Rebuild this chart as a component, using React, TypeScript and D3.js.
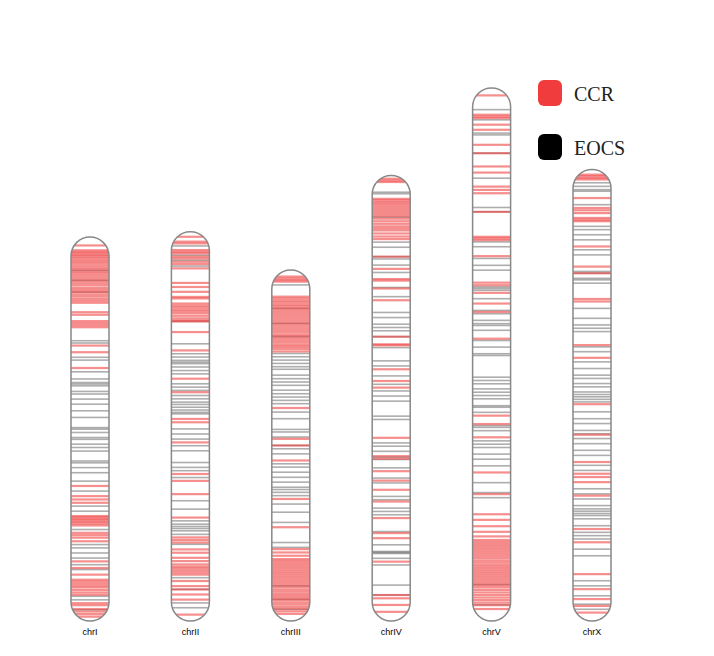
import React from "react";
import * as d3 from "d3";

const chromosomes = ["chrI", "chrII", "chrIII", "chrIV", "chrV", "chrX"];
const lengthsMb = [15.07, 15.28, 13.78, 17.49, 20.92, 17.72];

const ccrI = [0.33, 0.52, 0.58, 0.64, 0.7, 0.76, 0.82, 0.9, 0.97, 1.04, 1.12, 1.2, 1.27, 1.35, 1.42, 1.5, 1.58, 1.66, 1.74, 1.82, 1.9, 2.0, 2.08, 2.16, 2.25, 2.33, 2.42, 2.5, 2.58, 2.95, 3.05, 3.3, 3.38, 3.46, 3.54, 4.26, 4.52, 5.14, 9.77, 10.17, 10.3, 10.43, 10.95, 11.0, 11.06, 11.12, 11.18, 11.25, 11.32, 11.61, 11.7, 11.8, 11.94, 12.73, 12.99, 13.25, 13.45, 13.52, 13.6, 13.68, 13.75, 13.85, 13.95, 14.04, 14.37, 14.45, 14.6, 14.7, 14.8, 14.9];
const eocsI = [1.31, 1.7, 2.16, 4.07, 4.16, 4.72, 4.83, 5.29, 5.57, 5.71, 5.77, 5.84, 6.06, 6.16, 6.36, 6.56, 6.82, 7.08, 7.48, 7.54, 7.67, 7.87, 7.94, 8.13, 8.26, 8.4, 8.79, 8.86, 9.05, 9.25, 9.58, 9.97, 10.56, 10.76, 11.48, 12.07, 12.2, 12.4, 12.6, 12.86, 13.05, 14.1, 14.24, 14.63];

const ccrII = [0.2, 0.39, 0.46, 0.72, 0.79, 0.85, 0.98, 1.05, 1.18, 1.27, 1.44, 2.01, 2.17, 2.36, 2.56, 2.62, 2.82, 2.9, 2.97, 3.05, 3.12, 3.2, 3.3, 3.4, 3.48, 3.52, 3.94, 4.66, 5.77, 6.3, 7.35, 7.48, 8.27, 9.51, 9.78, 10.3, 11.22, 12.0, 12.1, 12.2, 12.47, 12.6, 12.8, 12.93, 13.06, 13.15, 13.22, 13.3, 13.38, 13.46, 13.71, 13.91, 14.04, 14.24, 14.44, 15.03];
const eocsII = [0.56, 0.92, 1.12, 1.35, 3.52, 4.4, 4.79, 4.92, 5.05, 5.12, 5.18, 5.31, 5.45, 5.58, 5.97, 6.1, 6.23, 6.43, 6.56, 6.69, 6.78, 6.89, 7.0, 7.09, 7.15, 7.74, 7.94, 8.14, 8.4, 8.6, 9.06, 9.25, 9.38, 9.65, 10.56, 10.89, 11.35, 11.48, 11.57, 11.65, 11.74, 11.88, 12.27, 13.58, 14.04, 14.57, 14.76];

const ccrIII = [0.26, 0.33, 0.4, 0.46, 1.05, 1.12, 1.2, 1.27, 1.35, 1.42, 1.5, 1.58, 1.66, 1.74, 1.82, 1.9, 1.98, 2.06, 2.14, 2.22, 2.3, 2.38, 2.46, 2.55, 2.62, 2.7, 2.78, 2.86, 2.95, 3.02, 3.1, 3.2, 5.42, 6.63, 6.89, 7.48, 8.99, 10.1, 10.96, 11.09, 11.22, 11.35, 11.42, 11.5, 11.58, 11.66, 11.74, 11.82, 11.9, 11.98, 12.06, 12.14, 12.22, 12.3, 12.38, 12.46, 12.55, 12.63, 12.72, 12.8, 12.88, 12.96, 13.05, 13.13, 13.22, 13.3, 13.4, 13.5];
const eocsIII = [0.59, 1.51, 2.1, 2.62, 3.28, 3.41, 3.54, 3.67, 3.8, 3.9, 4.13, 4.27, 4.4, 4.53, 4.72, 4.86, 4.99, 5.12, 5.25, 5.58, 5.84, 6.26, 6.36, 6.56, 6.89, 7.02, 7.22, 7.61, 7.74, 7.94, 8.14, 8.33, 8.53, 8.62, 8.73, 8.86, 9.19, 9.51, 9.91, 10.7, 10.89, 12.4, 12.93, 13.32];

const ccrIV = [0.13, 0.2, 0.26, 0.92, 0.98, 1.05, 1.12, 1.2, 1.28, 1.36, 1.44, 1.52, 1.6, 1.7, 1.8, 1.9, 2.0, 2.08, 2.16, 2.28, 2.4, 2.5, 3.19, 3.67, 4.07, 4.13, 4.44, 4.9, 6.33, 6.63, 6.67, 7.61, 8.07, 8.33, 10.3, 11.02, 11.12, 11.61, 11.98, 12.34, 12.8, 13.45, 14.04, 14.24, 15.16, 16.47, 16.6, 16.86, 17.13];
const eocsIV = [0.66, 0.72, 1.64, 2.62, 2.82, 3.19, 3.28, 3.52, 3.81, 4.4, 4.76, 5.38, 5.58, 5.84, 5.97, 6.1, 6.33, 6.76, 7.28, 7.48, 7.87, 8.2, 8.46, 8.66, 8.86, 9.45, 9.58, 10.5, 10.63, 10.83, 11.06, 11.15, 11.48, 11.88, 12.07, 12.6, 12.73, 13.06, 13.19, 13.32, 13.98, 14.5, 14.76, 14.8, 14.84, 15.03, 15.29, 16.08, 16.47];

const ccrV = [0.29, 1.05, 1.12, 1.18, 1.44, 1.64, 2.23, 2.56, 3.08, 3.32, 3.87, 4.0, 4.13, 4.86, 5.84, 5.9, 5.97, 6.6, 7.64, 7.74, 8.04, 8.46, 8.79, 9.84, 12.86, 13.19, 13.71, 15.09, 15.94, 16.73, 16.95, 17.2, 17.42, 17.6, 17.74, 17.82, 17.9, 17.98, 18.06, 18.14, 18.22, 18.3, 18.38, 18.46, 18.55, 18.63, 18.72, 18.8, 18.88, 18.96, 19.04, 19.12, 19.2, 19.28, 19.36, 19.44, 19.52, 19.6, 19.7, 19.8, 19.9, 20.0, 20.1, 20.2, 20.3, 20.45];
const eocsV = [0.85, 1.25, 1.77, 1.84, 2.56, 3.54, 4.69, 4.86, 6.04, 6.23, 6.69, 6.96, 7.15, 7.81, 7.87, 7.94, 8.27, 8.73, 8.86, 9.12, 9.25, 9.32, 9.51, 9.91, 10.17, 10.43, 10.5, 11.35, 11.48, 11.61, 11.81, 11.94, 12.07, 12.2, 12.47, 12.53, 12.73, 13.25, 13.32, 13.45, 13.85, 13.98, 14.11, 14.37, 14.57, 14.83, 15.49, 15.88, 16.08, 19.49, 20.28];

const ccrX = [0.2, 0.26, 0.33, 0.39, 1.12, 1.51, 1.6, 1.71, 1.9, 1.97, 2.03, 3.02, 3.81, 4.07, 5.08, 5.18, 6.89, 7.39, 9.21, 10.41, 11.48, 11.94, 12.07, 12.27, 12.8, 14.11, 14.63, 15.88, 16.47, 16.86, 17.13, 17.39];
const eocsX = [0.52, 0.66, 0.79, 0.85, 1.38, 2.23, 2.36, 2.56, 2.76, 3.15, 3.35, 4.0, 4.07, 4.27, 4.33, 4.46, 5.45, 5.84, 6.1, 6.23, 6.36, 6.96, 7.15, 7.55, 7.81, 8.07, 8.2, 8.4, 8.53, 8.73, 8.83, 8.92, 9.02, 9.12, 9.51, 9.78, 9.97, 10.24, 10.37, 10.56, 10.76, 11.02, 11.22, 11.61, 11.81, 12.53, 12.73, 12.93, 13.19, 13.32, 13.41, 13.5, 13.58, 13.71, 13.98, 14.24, 14.37, 14.5, 14.9, 15.16, 16.14, 16.34, 16.73, 17.06, 17.26];

const ccrSeries = [ccrI, ccrII, ccrIII, ccrIV, ccrV, ccrX];
const eocsSeries = [eocsI, eocsII, eocsIII, eocsIV, eocsV, eocsX];
const legendLabels = ["CCR", "EOCS"];
const legendColors = ["#f03c3c", "#000000"];

const W = 714;
const H = 656;
const BASE = 621;
const CW = 38;

export default function App() {
  const x = d3.scalePoint<string>().domain(chromosomes).range([90, 592]);
  const maxLen = d3.max(lengthsMb) as number;
  const ys = d3.scaleLinear().domain([0, maxLen]).range([0, 533]);
  const ccrH = 2.2;
  const eocsH = 1.6;

  return (
    <svg
      width={W}
      height={H}
      style={{ position: "absolute", left: 0, top: 0, background: "#fff" }}
    >
      <defs>
        {chromosomes.map((c, i) => {
          const top = BASE - ys(lengthsMb[i]);
          return (
            <clipPath id={`clip-${c}`} key={c}>
              <rect
                x={(x(c) as number) - CW / 2}
                y={top}
                width={CW}
                height={ys(lengthsMb[i])}
                rx={CW / 2}
                ry={CW / 2}
              />
            </clipPath>
          );
        })}
      </defs>
      {chromosomes.map((c, i) => {
        const cx = x(c) as number;
        const top = BASE - ys(lengthsMb[i]);
        return (
          <g key={c}>
            <rect
              x={cx - CW / 2}
              y={top}
              width={CW}
              height={ys(lengthsMb[i])}
              rx={CW / 2}
              ry={CW / 2}
              fill="#fff"
            />
            <g clipPath={`url(#clip-${c})`}>
              {eocsSeries[i].map((p, j) => (
                <rect
                  key={`e${j}`}
                  x={cx - CW / 2}
                  y={top + ys(p) - eocsH / 2}
                  width={CW}
                  height={eocsH}
                  fill="#000"
                  fillOpacity={0.32}
                />
              ))}
              {ccrSeries[i].map((p, j) => (
                <rect
                  key={`c${j}`}
                  x={cx - CW / 2}
                  y={top + ys(p) - ccrH / 2}
                  width={CW}
                  height={ccrH}
                  fill="#f03c3c"
                  fillOpacity={0.58}
                />
              ))}
            </g>
            <rect
              x={cx - CW / 2}
              y={top}
              width={CW}
              height={ys(lengthsMb[i])}
              rx={CW / 2}
              ry={CW / 2}
              fill="none"
              stroke="#888"
              strokeWidth={1.5}
            />
            <text
              x={cx}
              y={635}
              textAnchor="middle"
              fontFamily="Liberation Sans, Arial, sans-serif"
              fontSize={9}
              fill="#000"
            >
              {c}
            </text>
          </g>
        );
      })}
      {legendLabels.map((l, i) => (
        <g key={l} transform={`translate(538, ${80 + i * 54})`}>
          <rect width={24} height={26} rx={6} ry={6} fill={legendColors[i]} />
          <text
            x={36}
            y={21}
            fontFamily="Liberation Serif, Times New Roman, serif"
            fontSize={20}
            fill="#222"
          >
            {l}
          </text>
        </g>
      ))}
    </svg>
  );
}
